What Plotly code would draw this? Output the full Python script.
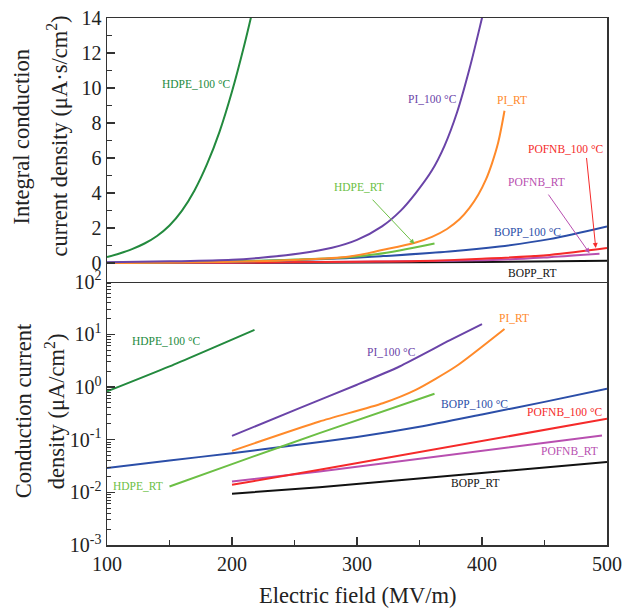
import math
import plotly.graph_objects as go

# ---------------- data: integral conduction current density (top) ----------------
hdpe100_int_E = [100, 110, 120, 130, 140, 150, 160, 170, 180, 190, 200, 210, 217]
hdpe100_int_y = [0.34, 0.55, 0.8, 1.12, 1.55, 2.15, 3.0, 4.15, 5.65, 7.5, 9.8, 12.5, 14.6]

pi100_int_E = [100, 150, 200, 225, 254, 280, 300, 320, 335, 347, 360, 370, 380, 390, 400, 402]
pi100_int_y = [0.05, 0.1, 0.19, 0.32, 0.55, 0.88, 1.33, 2.1, 3.0, 4.0, 5.3, 6.7, 8.6, 11.1, 14.0, 14.6]

pirt_int_E = [100, 200, 250, 294, 321, 347, 360, 372, 382, 390, 397, 403, 408, 413, 418]
pirt_int_y = [0.0, 0.08, 0.18, 0.38, 0.76, 1.18, 1.5, 1.95, 2.5, 3.15, 3.9, 4.75, 5.7, 6.9, 8.7]

hdpert_int_E = [100, 200, 250, 294, 315, 334, 362]
hdpert_int_y = [0.0, 0.1, 0.2, 0.34, 0.5, 0.72, 1.12]

bopp100_int_E = [100, 200, 250, 294, 321, 374, 414, 454, 500]
bopp100_int_y = [0.02, 0.08, 0.18, 0.29, 0.4, 0.66, 0.95, 1.37, 2.09]

pofnb100_int_E = [100, 200, 300, 350, 400, 454, 500]
pofnb100_int_y = [0.0, 0.03, 0.08, 0.12, 0.25, 0.47, 0.86]

pofnbrt_int_E = [100, 200, 300, 374, 414, 454, 494]
pofnbrt_int_y = [0.0, 0.02, 0.08, 0.14, 0.19, 0.34, 0.53]

bopprt_int_E = [100, 200, 300, 400, 500]
bopprt_int_y = [0.0, 0.01, 0.03, 0.07, 0.13]

# ---------------- data: conduction current density (bottom, log) ----------------
hdpe100_j_E = [100, 150, 218]
hdpe100_j = [0.82, 2.45, 12.1]

pi100_j_E = [200, 254, 300, 334, 374, 400]
pi100_j = [0.118, 0.395, 1.1, 2.44, 7.6, 15.5]

pirt_j_E = [200, 270, 320.6, 347, 379, 418]
pirt_j = [0.061, 0.22, 0.49, 0.88, 2.44, 12.6]

hdpert_j_E = [150, 200, 270, 362]
hdpert_j = [0.0129, 0.0343, 0.133, 0.74]

bopp100_j_E = [100, 150, 200, 250, 300, 350, 400, 450, 500]
bopp100_j = [0.0288, 0.04, 0.0553, 0.078, 0.112, 0.175, 0.30, 0.52, 0.92]

pofnb100_j_E = [200, 270, 500]
pofnb100_j = [0.0139, 0.0267, 0.248]

pofnbrt_j_E = [200, 270, 496]
pofnbrt_j = [0.016, 0.0248, 0.12]

bopprt_j_E = [200, 270, 500]
bopprt_j = [0.0094, 0.0125, 0.0374]

# ---------------- ticks ----------------
top_y_ticks = [0, 2, 4, 6, 8, 10, 12, 14]
top_y_minor = [1, 3, 5, 7, 9, 11, 13]
x_ticks = [100, 200, 300, 400, 500]
x_minor = [150, 250, 350, 450]
log_ticks = [1e-3, 1e-2, 1e-1, 1e0, 1e1, 1e2]
log_tick_text = ["10<sup>-3</sup>", "10<sup>-2</sup>", "10<sup>-1</sup>",
                 "10<sup>0</sup>", "10<sup>1</sup>", "10<sup>2</sup>"]

# ---------------- colours ----------------
C_HDPE100 = "#238a3e"
C_HDPERT = "#6cbf45"
C_PI100 = "#6a44a8"
C_PIRT = "#ff8a2a"
C_BOPP100 = "#2b4ea8"
C_POFNB100 = "#f52a2a"
C_POFNBRT = "#b84fb0"
C_BOPPRT = "#111111"

FONT = "Liberation Serif"

fig = go.Figure()

top_series = [
    (bopprt_int_E, bopprt_int_y, C_BOPPRT),
    (pofnbrt_int_E, pofnbrt_int_y, C_POFNBRT),
    (pofnb100_int_E, pofnb100_int_y, C_POFNB100),
    (bopp100_int_E, bopp100_int_y, C_BOPP100),
    (hdpert_int_E, hdpert_int_y, C_HDPERT),
    (pirt_int_E, pirt_int_y, C_PIRT),
    (pi100_int_E, pi100_int_y, C_PI100),
    (hdpe100_int_E, hdpe100_int_y, C_HDPE100),
]
for xs, ys, c in top_series:
    fig.add_trace(go.Scatter(x=xs, y=ys, mode="lines", xaxis="x2", yaxis="y",
                             line=dict(color=c, width=2, shape="spline", smoothing=1.0),
                             showlegend=False, hoverinfo="skip"))

bottom_series = [
    (bopprt_j_E, bopprt_j, C_BOPPRT),
    (pofnbrt_j_E, pofnbrt_j, C_POFNBRT),
    (pofnb100_j_E, pofnb100_j, C_POFNB100),
    (bopp100_j_E, bopp100_j, C_BOPP100),
    (hdpert_j_E, hdpert_j, C_HDPERT),
    (pirt_j_E, pirt_j, C_PIRT),
    (pi100_j_E, pi100_j, C_PI100),
    (hdpe100_j_E, hdpe100_j, C_HDPE100),
]
for xs, ys, c in bottom_series:
    fig.add_trace(go.Scatter(x=xs, y=ys, mode="lines", xaxis="x", yaxis="y2",
                             line=dict(color=c, width=2, shape="spline", smoothing=0.6),
                             showlegend=False, hoverinfo="skip"))

LS = 11.5
annotations = []

def lab(text, x, y, color, xref, yref):
    annotations.append(dict(text=text, x=x, y=y, xref=xref, yref=yref, showarrow=False,
                            font=dict(family=FONT, size=LS, color=color)))

# top labels
lab("HDPE_100 °C", 171.5, 10.25, C_HDPE100, "x2", "y")
lab("PI_100 °C", 360.5, 9.37, C_PI100, "x2", "y")
lab("PI_RT", 423.6, 9.33, C_PIRT, "x2", "y")
lab("POFNB_100 °C", 467, 6.53, C_POFNB100, "x2", "y")
lab("POFNB_RT", 443.5, 4.66, C_POFNBRT, "x2", "y")
lab("HDPE_RT", 301.2, 4.34, C_HDPERT, "x2", "y")
lab("BOPP_100 °C", 436.3, 1.75, C_BOPP100, "x2", "y")
lab("BOPP_RT", 440.3, -0.57, C_BOPPRT, "x2", "y")

# arrows (top)
for (x0, y0, x1, y1, c) in [(311.3, 3.71, 346, 1.09, C_HDPERT),
                            (452.3, 4.0, 486, 0.57, C_POFNBRT),
                            (483.5, 6.09, 491, 0.86, C_POFNB100)]:
    annotations.append(dict(x=x1, y=y1, ax=x0, ay=y0, xref="x2", yref="y",
                            axref="x2", ayref="y", showarrow=True, arrowhead=2,
                            arrowsize=1, arrowwidth=1, arrowcolor=c, text=""))

def lablog(text, x, y, color):
    lab(text, x, math.log10(y), color, "x", "y2")

lablog("HDPE_100 °C", 147.6, 7.5, C_HDPE100)
lablog("HDPE_RT", 125, 0.0133, C_HDPERT)
lablog("PI_100 °C", 327.3, 4.57, C_PI100)
lablog("PI_RT", 425.2, 20.2, C_PIRT)
lablog("BOPP_100 °C", 393.8, 0.47, C_BOPP100)
lablog("POFNB_100 °C", 466.4, 0.33, C_POFNB100)
lablog("POFNB_RT", 470.2, 0.061, C_POFNBRT)
lablog("BOPP_RT", 395.1, 0.0153, C_BOPPRT)

# axis titles
TF = 22.5
def title(text, x, y, angle=-90):
    annotations.append(dict(text=text, x=x, y=y, xref="paper", yref="paper",
                            showarrow=False, textangle=angle, xanchor="center", yanchor="middle",
                            font=dict(family=FONT, size=TF, color="#222")))

title("Integral conduction", -0.17, 0.775)
title("current density (μA·s/cm<sup>2</sup>)", -0.10, 0.775)
title("Conduction current", -0.168, 0.254)
title("density (μA/cm<sup>2</sup>)", -0.104, 0.254)
title("Electric field (MV/m)", 0.5, -0.095, angle=0)

AX = "#333333"
log_minor = [k * 10 ** n for n in range(-3, 2) for k in range(2, 10)]

common_tick = dict(ticks="inside", ticklen=8, tickwidth=1.3, tickcolor=AX,
                   showline=True, linecolor=AX, linewidth=1.5,
                   showgrid=False, zeroline=False, ticklabeloverflow="allow",
                   tickfont=dict(family=FONT, size=20))

fig.update_layout(
    width=624, height=608,
    margin=dict(l=107, r=17, t=18, b=63, autoexpand=False),
    paper_bgcolor="white", plot_bgcolor="white",
    font=dict(family=FONT, size=20, color="#222"),
    annotations=annotations,
    xaxis=dict(domain=[0, 1], anchor="y2", range=[100, 500], tickvals=x_ticks,
               minor=dict(tickvals=x_minor, ticks="inside", ticklen=5,
                          tickwidth=1.3, tickcolor=AX),
               mirror=False, **common_tick),
    xaxis2=dict(domain=[0, 1], anchor="y", range=[100, 500], matches="x",
                showticklabels=False, ticks="",
                showline=True, linecolor=AX, linewidth=1.5, mirror=True,
                showgrid=False, zeroline=False),
    yaxis=dict(domain=[0.5, 1], anchor="x2", range=[-1.05, 14], tickvals=top_y_ticks,
               minor=dict(tickvals=top_y_minor, ticks="inside", ticklen=5,
                          tickwidth=1.3, tickcolor=AX),
               mirror=True, **common_tick),
    yaxis2=dict(domain=[0, 0.5], anchor="x", type="log", range=[-3, 2],
                tickvals=log_ticks, ticktext=log_tick_text,
                minor=dict(tickvals=log_minor, ticks="inside", ticklen=4,
                           tickwidth=1, tickcolor=AX),
                mirror=True, **common_tick),
)

# remove the default 8 px body margin so the figure fills the window exactly
fig.write_html("out.html",
               config={"displayModeBar": False, "staticPlot": True},
               post_script="document.body.style.margin='0';document.body.style.overflow='hidden';")
